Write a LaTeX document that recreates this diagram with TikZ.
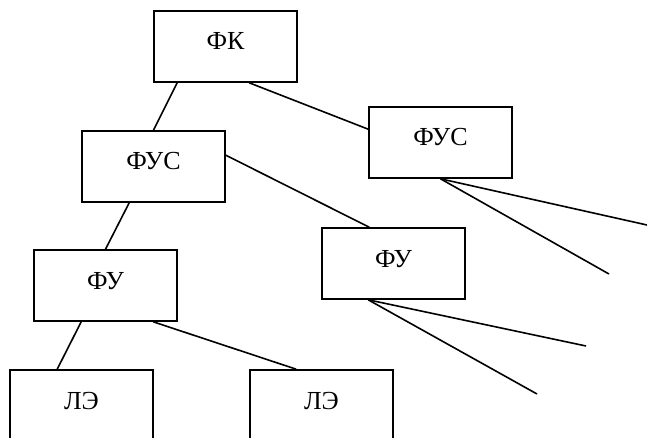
\documentclass[tikz,border=0pt]{standalone}
\usepackage{fontspec}
\setmainfont{Liberation Serif}
\usetikzlibrary{calc}
\begin{document}
\begin{tikzpicture}[x=1pt,y=-1pt,
  box/.style={draw, line width=1.6pt, minimum width=143pt, minimum height=71pt,
    inner sep=0pt, text height=16pt, text depth=9pt, font=\fontsize{26}{28}\selectfont},
  link/.style={line width=1.6pt}]
\clip (0,0) rectangle (647,438);
\node[box] (fk)   at (225.5,46.5)  {ФК};
\node[box] (fus1) at (153.5,166.5) {ФУС};
\node[box] (fus2) at (440.5,142.5) {ФУС};
\node[box] (fu2)  at (393.5,263.5) {ФУ};
\node[box] (fu1)  at (105.5,285.5) {ФУ};
\node[box] (le1)  at (81.5,405.5)  {ЛЭ};
\node[box] (le2)  at (321.5,405.5) {ЛЭ};
\coordinate (e1) at (647,225);
\coordinate (e2) at (609,274);
\coordinate (e3) at (586,346);
\coordinate (e4) at (537,394);
\draw[link] ($(fk.south west)+(24,0)$) -- (fus1.north);
\draw[link] ($(fk.south west)+(96,0)$) -- ($(fus2.north west)+(0,23)$);
\draw[link] ($(fus1.north east)+(0,25)$) -- ($(fu2.north west)+(48,0)$);
\draw[link] ($(fus1.south west)+(48,0)$) -- (fu1.north);
\draw[link] (fus2.south) -- (e1);
\draw[link] (fus2.south) -- (e2);
\draw[link] ($(fu2.south west)+(47,0)$) -- (e3);
\draw[link] ($(fu2.south west)+(47,0)$) -- (e4);
\draw[link] ($(fu1.south west)+(48,0)$) -- ($(le1.north west)+(48,0)$);
\draw[link] ($(fu1.south west)+(120,0)$) -- ($(le2.north west)+(47,0)$);
\end{tikzpicture}
\end{document}
